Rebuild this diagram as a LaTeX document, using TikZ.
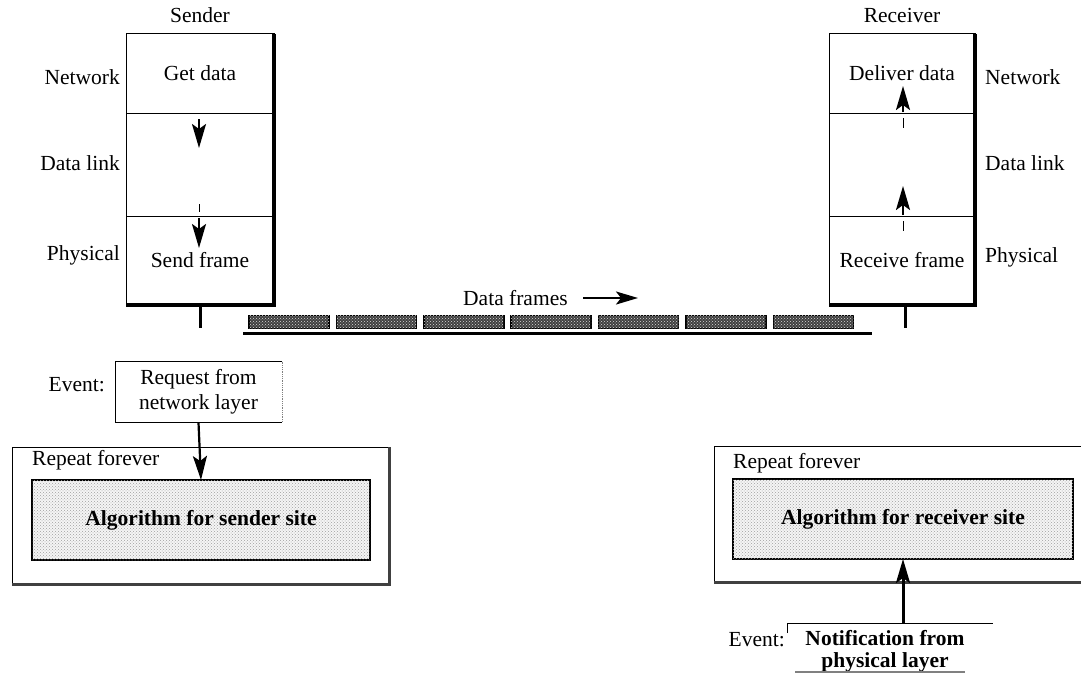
\documentclass[tikz,border=0pt]{standalone}
\usepackage{fontspec}
\setmainfont{Liberation Serif}
\usetikzlibrary{arrows.meta,calc,patterns}
\begin{document}
\begin{tikzpicture}[x=1pt,y=-1pt,
  every node/.style={font=\rmfamily\fontsize{21.5}{24}\selectfont},
  layerbox/.style={draw,line width=1pt,minimum width=148pt,inner sep=0pt,outer sep=0pt},
  lbl/.style={inner sep=0pt},
  flow/.style={line width=2.2pt,-{Stealth[length=24pt,width=14pt,inset=5pt]}},
  frame/.style={draw=black,line width=1.5pt,fill=black!75,postaction={pattern=crosshatch dots,pattern color=white!85!black},minimum width=80pt,minimum height=13pt,inner sep=0pt},
  algobox/.style={draw,line width=1.4pt,fill=gray!8,postaction={pattern=crosshatch dots,pattern color=gray!75},inner sep=0pt,outer sep=0pt},
  shadow/.style={line width=4pt},
  gshadow/.style={line width=3pt,draw=black!75}]
\useasboundingbox (0,0) rectangle (1081,677);

% ---------- Sender stack ----------
\node[lbl] (sender) at (200,15) {Sender};
\node[layerbox,minimum height=79pt] (snet) at (200,73.5) {Get data};
\node[layerbox,minimum height=103pt] (sdl) at (200,164.5) {};
\node[layerbox,minimum height=89pt] (sphy) at (200,260.5) {Send frame};
\draw[shadow] (snet.north east) -- (sphy.south east) -- (sphy.south west);
\node[lbl,anchor=east] (snetl) at (120,77) {Network};
\node[lbl,anchor=east] (sdll) at (120,163) {Data link};
\node[lbl,anchor=east] (sphyl) at (120,255) {Physical};
\coordinate (sa1) at (199,119);
\coordinate (sa1e) at (199,148);
\coordinate (sd1) at (199,204);
\coordinate (sd1e) at (199,212);
\coordinate (sa2) at (199,218);
\coordinate (sa2e) at (199,248);
\draw[flow] (sa1) -- (sa1e);
\draw[line width=1pt] (sd1) -- (sd1e);
\draw[flow] (sa2) -- (sa2e);
\coordinate (stick) at (200,328);
\draw[line width=3pt] (sphy.south) -- (stick);

% ---------- Receiver stack ----------
\node[lbl] (receiver) at (902,15) {Receiver};
\node[layerbox,minimum height=79pt,minimum width=146pt] (rnet) at (902,73.5) {Deliver data};
\node[layerbox,minimum height=103pt,minimum width=146pt] (rdl) at (902,164.5) {};
\node[layerbox,minimum height=89pt,minimum width=146pt] (rphy) at (902,260.5) {Receive frame};
\draw[shadow] (rnet.north east) -- (rphy.south east) -- (rphy.south west);
\node[lbl,anchor=west] (rnetl) at (985,77) {Network};
\node[lbl,anchor=west] (rdll) at (985,163) {Data link};
\node[lbl,anchor=west] (rphyl) at (985,257) {Physical};
\coordinate (ra1) at (903,112);
\coordinate (ra1e) at (903,86);
\coordinate (rd1) at (903,118);
\coordinate (rd1e) at (903,128);
\coordinate (ra2) at (903,215);
\coordinate (ra2e) at (903,186);
\coordinate (rd2) at (903,221);
\coordinate (rd2e) at (903,231);
\draw[flow] (ra1) -- (ra1e);
\draw[line width=1pt] (rd1) -- (rd1e);
\draw[flow] (ra2) -- (ra2e);
\draw[line width=1pt] (rd2) -- (rd2e);
\coordinate (rtick) at (905,328);
\coordinate (rtop) at (905,305);
\draw[line width=3pt] (rtop) -- (rtick);

% ---------- Data frames ----------
\node[lbl,anchor=west] (dftext) at (463,298) {Data frames};
\coordinate (dfa) at (583,298);
\coordinate (dfb) at (638,298);
\draw[line width=2.2pt,-{Stealth[length=22pt,width=13pt,inset=5pt]}] (dfa) -- (dfb);
\foreach \i in {0,...,6}{
  \node[frame] (fr\i) at (289+87.4*\i,322) {};
}
\coordinate (lineA) at (243,333);
\coordinate (lineB) at (872,333);
\draw[line width=3pt] (lineA) -- (lineB);

% ---------- Sender algorithm ----------
\node[lbl,anchor=east] (sev) at (105,385) {Event:};
\node[minimum width=167pt,minimum height=61pt,inner sep=0pt,outer sep=0pt,align=center,
      font=\rmfamily\fontsize{21.5}{25}\selectfont] (req) at (198.5,392) {Request from\\network layer};
\draw[line width=1pt] (req.north east) -- (req.north west) -- (req.south west) -- (req.south east);
\draw[line width=0.8pt,densely dotted,gray] (req.north east) -- (req.south east);
\node[minimum width=377pt,minimum height=137pt,inner sep=0pt,outer sep=0pt] (souter) at (200.5,515.5) {};
\draw[line width=1pt] (souter.south west) -- (souter.north west) -- (souter.north east);
\draw[gshadow] (souter.north east) -- (souter.south east) -- (souter.south west);
\node[lbl,anchor=west] (srep) at (32,460) {Repeat forever};
\node[algobox,minimum width=338pt,minimum height=80pt] (salg) at (201,520) {\textbf{Algorithm for sender site}};
\draw[flow] (req.south) -- (salg.north);

% ---------- Receiver algorithm ----------
\node[minimum width=372pt,minimum height=136pt,inner sep=0pt,outer sep=0pt] (router) at (900,514) {};
\draw[line width=1pt] (router.south west) -- (router.north west) -- (router.north east);
\draw[gshadow] (router.south west) -- (router.south east);
\node[lbl,anchor=west] (rrep) at (733,463) {Repeat forever};
\node[algobox,minimum width=340pt,minimum height=80pt] (ralg) at (903,519) {\textbf{Algorithm for receiver site}};
\node[lbl,anchor=east] (rev) at (785,640) {Event:};
\node[inner sep=0pt,align=center,font=\rmfamily\fontsize{21.5}{22}\selectfont] (notif) at (885,651) {\textbf{Notification from}\\\textbf{physical layer}};
\coordinate (nTL) at (787,623);
\coordinate (nTR) at (993,623);
\coordinate (nTick) at (787,633);
\coordinate (nArr) at (903,623);
\draw[line width=1pt] (nTick) -- (nTL) -- (nTR);
\coordinate (nBL) at (795,672);
\coordinate (nBR) at (965,672);
\draw[line width=1.2pt,gray] (nBL) -- (nBR);
\draw[flow,line width=3pt] (nArr) -- (ralg.south);
\end{tikzpicture}
\end{document}
